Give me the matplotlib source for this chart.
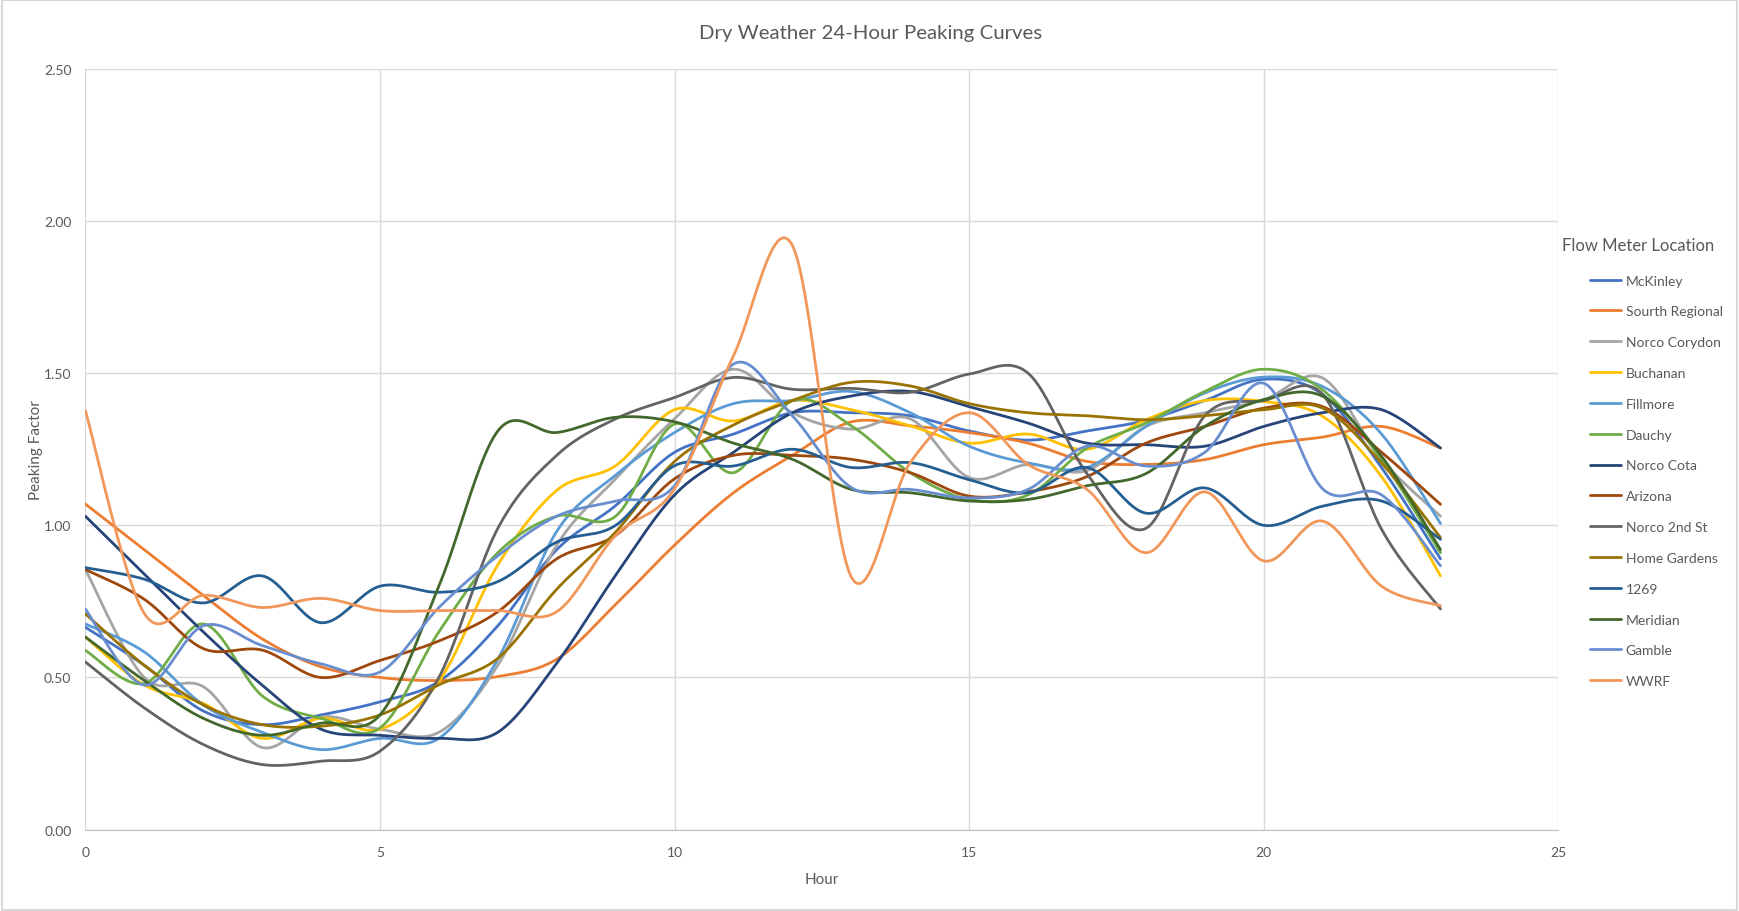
#Dry weather 24-hour peaking curves for each flow meter (Excel style smoothed lines)
import numpy as np
import matplotlib.pyplot as plt
from matplotlib.patches import Rectangle

plt.rcParams['font.family'] = ['Lato', 'DejaVu Sans']

hours = list(range(24))

mckinley = [0.665, 0.54, 0.39, 0.345, 0.377, 0.42, 0.487, 0.67, 0.92, 1.065, 1.24, 1.30,
            1.37, 1.37, 1.36, 1.31, 1.28, 1.31, 1.345, 1.41, 1.48, 1.43, 1.19, 0.89]
south_regional = [1.07, 0.92, 0.77, 0.627, 0.535, 0.50, 0.49, 0.503, 0.56, 0.74, 0.935, 1.107,
                  1.23, 1.34, 1.327, 1.305, 1.27, 1.21, 1.20, 1.216, 1.265, 1.29, 1.325, 1.254]
norco_corydon = [0.855, 0.50, 0.47, 0.27, 0.37, 0.33, 0.32, 0.54, 0.935, 1.153, 1.35, 1.513,
                 1.37, 1.316, 1.35, 1.157, 1.20, 1.18, 1.325, 1.37, 1.413, 1.484, 1.216, 1.03]
buchanan = [0.633, 0.475, 0.415, 0.30, 0.366, 0.33, 0.487, 0.87, 1.115, 1.196, 1.38, 1.343,
            1.41, 1.38, 1.327, 1.27, 1.30, 1.25, 1.347, 1.41, 1.407, 1.358, 1.16, 0.834]
fillmore = [0.676, 0.584, 0.41, 0.32, 0.263, 0.30, 0.30, 0.56, 0.98, 1.165, 1.305, 1.40,
            1.41, 1.44, 1.37, 1.26, 1.205, 1.19, 1.325, 1.435, 1.487, 1.456, 1.30, 1.006]
dauchy = [0.589, 0.48, 0.676, 0.44, 0.366, 0.334, 0.65, 0.91, 1.03, 1.03, 1.333, 1.173,
          1.41, 1.327, 1.173, 1.085, 1.10, 1.254, 1.336, 1.44, 1.513, 1.445, 1.216, 0.91]
norco_cota = [1.03, 0.84, 0.65, 0.475, 0.33, 0.31, 0.30, 0.32, 0.547, 0.836, 1.10, 1.24,
              1.37, 1.425, 1.44, 1.39, 1.336, 1.27, 1.265, 1.26, 1.325, 1.37, 1.38, 1.254]
arizona = [0.855, 0.757, 0.595, 0.59, 0.50, 0.556, 0.62, 0.716, 0.89, 0.967, 1.153, 1.23,
           1.23, 1.217, 1.173, 1.096, 1.11, 1.16, 1.27, 1.325, 1.385, 1.39, 1.24, 1.069]
norco_2nd = [0.551, 0.40, 0.28, 0.214, 0.225, 0.258, 0.50, 0.99, 1.23, 1.35, 1.42, 1.486,
             1.447, 1.45, 1.437, 1.497, 1.50, 1.17, 0.99, 1.36, 1.41, 1.43, 0.987, 0.725]
home_gardens = [0.709, 0.54, 0.41, 0.345, 0.34, 0.377, 0.476, 0.563, 0.79, 0.978, 1.21, 1.33,
                1.41, 1.47, 1.458, 1.40, 1.37, 1.36, 1.347, 1.36, 1.38, 1.385, 1.205, 0.96]
meter_1269 = [0.861, 0.823, 0.745, 0.834, 0.68, 0.80, 0.78, 0.815, 0.945, 1.0, 1.196, 1.195,
              1.25, 1.19, 1.206, 1.15, 1.107, 1.19, 1.04, 1.123, 1.0, 1.063, 1.08, 0.954]
meridian = [0.633, 0.49, 0.366, 0.31, 0.35, 0.377, 0.80, 1.31, 1.305, 1.355, 1.34, 1.27,
            1.217, 1.118, 1.107, 1.08, 1.085, 1.13, 1.17, 1.325, 1.413, 1.424, 1.227, 0.92]
gamble = [0.725, 0.475, 0.67, 0.605, 0.545, 0.518, 0.73, 0.90, 1.03, 1.08, 1.13, 1.53,
          1.36, 1.124, 1.118, 1.09, 1.118, 1.26, 1.195, 1.24, 1.467, 1.12, 1.10, 0.867]
wwrf = [1.377, 0.71, 0.77, 0.73, 0.76, 0.72, 0.72, 0.72, 0.716, 0.967, 1.12, 1.557,
        1.92, 0.83, 1.206, 1.37, 1.20, 1.118, 0.91, 1.11, 0.883, 1.014, 0.80, 0.736]

names = ['McKinley', 'Sourth Regional', 'Norco Corydon', 'Buchanan', 'Fillmore', 'Dauchy',
         'Norco Cota', 'Arizona', 'Norco 2nd St', 'Home Gardens', '1269', 'Meridian',
         'Gamble', 'WWRF']
series = [mckinley, south_regional, norco_corydon, buchanan, fillmore, dauchy, norco_cota,
          arizona, norco_2nd, home_gardens, meter_1269, meridian, gamble, wwrf]
colors = ['#4472C4', '#ED7D31', '#A5A5A5', '#FFC000', '#5B9BD5', '#70AD47', '#264478',
          '#9E480E', '#636363', '#997300', '#255E91', '#43682B', '#698ED0', '#F1975A']


#bezier smoothing like the excel "smoothed line" option
def smooth(x, y, n=24):
    pts = np.column_stack([x, y]).astype(float)
    ext = np.vstack([pts[0], pts, pts[-1]])
    t = np.linspace(0, 1, n, endpoint=False)[:, None]
    out = []
    for i in range(len(pts) - 1):
        p0 = ext[i + 1]
        p3 = ext[i + 2]
        c1 = p0 + (ext[i + 2] - ext[i]) / 6
        c2 = p3 - (ext[i + 3] - ext[i + 1]) / 6
        out.append((1 - t)**3 * p0 + 3 * (1 - t)**2 * t * c1 + 3 * (1 - t) * t**2 * c2 + t**3 * p3)
    out.append(pts[-1:])
    out = np.vstack(out)
    return out[:, 0], out[:, 1]


txt = '#595959'
fig = plt.figure(figsize=(17.39, 9.12), dpi=100)
ax = fig.add_axes([0.0491, 0.0892, 0.8470, 0.8342])

for name, vals, c in zip(names, series, colors):
    sx, sy = smooth(hours, vals)
    ax.plot(sx, sy, color=c, lw=2.0, label=name, solid_capstyle='round')

ax.set_xlim(0, 25)
ax.set_ylim(0, 2.5)
ax.set_xticks(np.arange(0, 26, 5))
ax.set_yticks(np.arange(0, 2.51, 0.5))
ax.set_yticklabels(['%.2f' % v for v in np.arange(0, 2.51, 0.5)])
ax.grid(True, color='#D9D9D9', lw=1.0)
ax.set_axisbelow(True)
for s in ['top', 'right', 'left']:
    ax.spines[s].set_visible(False)
ax.spines['bottom'].set_color('#BFBFBF')
ax.tick_params(length=0, labelsize=10, colors=txt)
ax.tick_params(axis='x', pad=12)
ax.tick_params(axis='y', pad=10)
ax.set_xlabel('Hour', fontsize=11, color=txt, labelpad=10)
ax.set_ylabel('Peaking Factor', fontsize=11, color=txt, labelpad=1)

fig.text(0.5008, 1 - 34 / 912, 'Dry Weather 24-Hour Peaking Curves', fontsize=14.7, color=txt,
         ha='center', va='center')

#legend with its title written separately so it can sit to the left
fig.text(1562 / 1739, 1 - 246 / 912, 'Flow Meter Location', fontsize=12, color=txt,
         ha='left', va='center')
leg = fig.legend(loc='upper left', bbox_to_anchor=(1577 / 1739, 1 - 263 / 912), frameon=False,
                 fontsize=10, labelcolor=txt, handlelength=2.3, handletextpad=0.3,
                 labelspacing=1.355)

#light border round the whole chart
fig.patches.append(Rectangle((0.001, 0.001), 0.998, 0.998, transform=fig.transFigure,
                             fill=False, edgecolor='#D9D9D9', lw=1.5))

plt.savefig('out.png', dpi=100)
